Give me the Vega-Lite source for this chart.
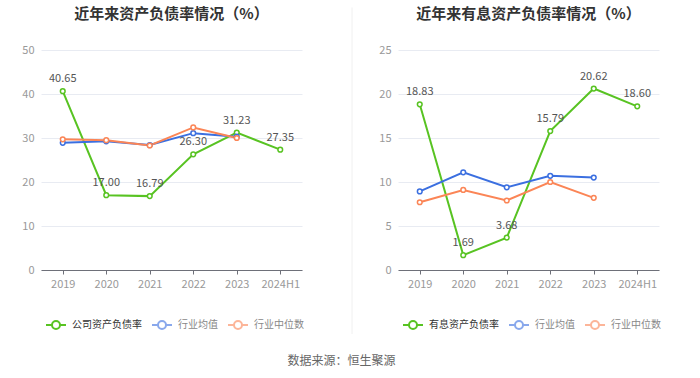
{
  "$schema": "https://vega.github.io/schema/vega-lite/v6.json",
  "background": "white",
  "padding": {"left": 21, "top": 6, "right": 10, "bottom": 5},
  "config": {
    "font": "Noto Sans CJK SC",
    "view": {"stroke": null},
    "concat": {"spacing": 25},
    "legend": {
      "title": null,
      "symbolType": "M-1,0H-0.4M0.4,0H1M0.4,0A0.4,0.4,0,1,1,-0.4,0A0.4,0.4,0,1,1,0.4,0",
      "symbolSize": 400,
      "symbolStrokeWidth": 2,
      "symbolFillColor": "white",
      "labelFontSize": 10,
      "labelColor": "#888",
      "labelOffset": 5,
      "columnPadding": 6
    }
  },
  "resolve": {"scale": {"color": "independent"}, "legend": {"color": "independent"}},
  "title": {"text": "数据来源：恒生聚源", "orient": "bottom", "anchor": "middle", "fontSize": 12, "fontWeight": "normal", "color": "#666", "offset": 21},
  "datasets": {
    "left": [
      {"year": "2019", "series": "公司资产负债率", "value": 40.65},
      {"year": "2020", "series": "公司资产负债率", "value": 17.00},
      {"year": "2021", "series": "公司资产负债率", "value": 16.79},
      {"year": "2022", "series": "公司资产负债率", "value": 26.30},
      {"year": "2023", "series": "公司资产负债率", "value": 31.23},
      {"year": "2024H1", "series": "公司资产负债率", "value": 27.35},
      {"year": "2019", "series": "行业均值", "value": 28.9},
      {"year": "2020", "series": "行业均值", "value": 29.25},
      {"year": "2021", "series": "行业均值", "value": 28.4},
      {"year": "2022", "series": "行业均值", "value": 31.1},
      {"year": "2023", "series": "行业均值", "value": 30.3},
      {"year": "2019", "series": "行业中位数", "value": 29.7},
      {"year": "2020", "series": "行业中位数", "value": 29.5},
      {"year": "2021", "series": "行业中位数", "value": 28.3},
      {"year": "2022", "series": "行业中位数", "value": 32.4},
      {"year": "2023", "series": "行业中位数", "value": 30.0}
    ],
    "right": [
      {"year": "2019", "series": "有息资产负债率", "value": 18.83},
      {"year": "2020", "series": "有息资产负债率", "value": 1.69},
      {"year": "2021", "series": "有息资产负债率", "value": 3.68},
      {"year": "2022", "series": "有息资产负债率", "value": 15.79},
      {"year": "2023", "series": "有息资产负债率", "value": 20.62},
      {"year": "2024H1", "series": "有息资产负债率", "value": 18.60},
      {"year": "2019", "series": "行业均值", "value": 8.93},
      {"year": "2020", "series": "行业均值", "value": 11.1},
      {"year": "2021", "series": "行业均值", "value": 9.4},
      {"year": "2022", "series": "行业均值", "value": 10.7},
      {"year": "2023", "series": "行业均值", "value": 10.5},
      {"year": "2019", "series": "行业中位数", "value": 7.7},
      {"year": "2020", "series": "行业中位数", "value": 9.1},
      {"year": "2021", "series": "行业中位数", "value": 7.9},
      {"year": "2022", "series": "行业中位数", "value": 10.0},
      {"year": "2023", "series": "行业中位数", "value": 8.2}
    ]
  },
  "hconcat": [
    {
      "width": 261,
      "height": 220,
      "title": {"text": "近年来资产负债率情况（%）", "fontSize": 15, "fontWeight": "bold", "color": "#333", "offset": 22, "anchor": "middle"},
      "data": {"name": "left"},
      "encoding": {
        "x": {"field": "year", "type": "ordinal", "sort": null, "scale": {"type": "point", "padding": 0.5},
          "axis": {"title": null, "labelAngle": 0, "labelFontSize": 11, "labelColor": "#999", "domainColor": "#6e7079", "tickColor": "#6e7079", "tickSize": 4, "labelPadding": 4, "grid": false}},
        "y": {"field": "value", "type": "quantitative", "scale": {"domain": [0, 50]},
          "axis": {"title": null, "values": [0, 10, 20, 30, 40, 50], "labelFontSize": 11, "labelColor": "#999", "domain": false, "ticks": false, "labelPadding": 7, "gridColor": "#e8ebf2"}}
      },
      "layer": [
        {
          "mark": {"type": "line", "strokeWidth": 2, "point": {"filled": false, "fill": "white", "size": 22, "strokeWidth": 1.5}},
          "encoding": {
            "color": {"field": "series", "type": "nominal",
              "scale": {"domain": ["公司资产负债率", "行业均值", "行业中位数"], "range": ["#58c322", "#3b6fe0", "#fb8556"]},
              "legend": {"orient": "none", "direction": "horizontal", "legendX": 4, "legendY": 264,
                "encode": {
                  "symbols": {"update": {"opacity": {"signal": "datum.index === 0 ? 1 : 0.6"}}},
                  "labels": {"update": {"fill": {"signal": "datum.index === 0 ? '#333' : '#888'"}}}
                }}}
          }
        },
        {
          "transform": [{"filter": "datum.series === '公司资产负债率'"}],
          "mark": {"type": "text", "dy": -12, "fontSize": 11, "color": "#555"},
          "encoding": {"text": {"field": "value", "type": "quantitative", "format": ".2f"}}
        }
      ]
    },
    {
      "width": 23,
      "height": 284,
      "data": {"values": [{"x": 1, "y": 0, "y2": 1.15}]},
      "mark": {"type": "rule", "color": "#f0f0f0", "strokeWidth": 1},
      "encoding": {
        "x": {"field": "x", "type": "quantitative", "scale": {"domain": [0, 1]}, "axis": null},
        "y": {"field": "y", "type": "quantitative", "scale": {"domain": [0, 1]}, "axis": null},
        "y2": {"field": "y2"}
      }
    },
    {
      "width": 261,
      "height": 220,
      "title": {"text": "近年来有息资产负债率情况（%）", "fontSize": 15, "fontWeight": "bold", "color": "#333", "offset": 22, "anchor": "middle"},
      "data": {"name": "right"},
      "encoding": {
        "x": {"field": "year", "type": "ordinal", "sort": null, "scale": {"type": "point", "padding": 0.5},
          "axis": {"title": null, "labelAngle": 0, "labelFontSize": 11, "labelColor": "#999", "domainColor": "#6e7079", "tickColor": "#6e7079", "tickSize": 4, "labelPadding": 4, "grid": false}},
        "y": {"field": "value", "type": "quantitative", "scale": {"domain": [0, 25]},
          "axis": {"title": null, "values": [0, 5, 10, 15, 20, 25], "labelFontSize": 11, "labelColor": "#999", "domain": false, "ticks": false, "labelPadding": 7, "gridColor": "#e8ebf2"}}
      },
      "layer": [
        {
          "mark": {"type": "line", "strokeWidth": 2, "point": {"filled": false, "fill": "white", "size": 22, "strokeWidth": 1.5}},
          "encoding": {
            "color": {"field": "series", "type": "nominal",
              "scale": {"domain": ["有息资产负债率", "行业均值", "行业中位数"], "range": ["#58c322", "#3b6fe0", "#fb8556"]},
              "legend": {"orient": "none", "direction": "horizontal", "legendX": 4, "legendY": 264,
                "encode": {
                  "symbols": {"update": {"opacity": {"signal": "datum.index === 0 ? 1 : 0.6"}}},
                  "labels": {"update": {"fill": {"signal": "datum.index === 0 ? '#333' : '#888'"}}}
                }}}
          }
        },
        {
          "transform": [{"filter": "datum.series === '有息资产负债率'"}],
          "mark": {"type": "text", "dy": -12, "fontSize": 11, "color": "#555"},
          "encoding": {"text": {"field": "value", "type": "quantitative", "format": ".2f"}}
        }
      ]
    }
  ]
}
